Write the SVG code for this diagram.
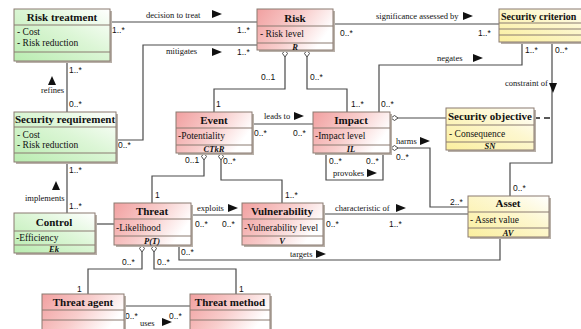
<svg xmlns="http://www.w3.org/2000/svg" width="581" height="329" viewBox="0 0 581 329">
<defs>
<linearGradient id="gRed" x1="0" y1="0" x2="1" y2="0.4"><stop offset="0" stop-color="#f1a0a0"/><stop offset="0.55" stop-color="#f8cdcc"/><stop offset="1" stop-color="#ffffff"/></linearGradient>
<linearGradient id="gGreen" x1="0" y1="1" x2="1" y2="0"><stop offset="0" stop-color="#b9ecb0"/><stop offset="0.55" stop-color="#dcf6d6"/><stop offset="1" stop-color="#ffffff"/></linearGradient>
<linearGradient id="gYellow" x1="0" y1="1" x2="1" y2="0"><stop offset="0" stop-color="#fbef9e"/><stop offset="0.6" stop-color="#fdf7cf"/><stop offset="1" stop-color="#ffffff"/></linearGradient>
</defs>
<style>
.sh{fill:#b8b0a8}
.box{stroke:#8a7a70;stroke-width:1}
.red{fill:url(#gRed)}
.green{fill:url(#gGreen)}
.yellow{fill:url(#gYellow)}
.div{stroke:#8a7a70;stroke-width:1}
.t{font-family:"Liberation Serif",serif;font-weight:bold;font-size:11px;fill:#111;text-anchor:middle}
.a{font-family:"Liberation Serif",serif;font-size:9.5px;fill:#111}
.b{font-family:"Liberation Serif",serif;font-size:8.5px;font-weight:bold;font-style:italic;fill:#111;text-anchor:middle}
.c{fill:none;stroke:#4a4a4a;stroke-width:1.2}
.d{fill:none;stroke:#222;stroke-width:1.4;stroke-dasharray:6 4}
.m{font-family:"Liberation Sans",sans-serif;font-size:8.5px;fill:#111}
.l{font-family:"Liberation Serif",serif;font-size:8.5px;fill:#111}
.ar{fill:#111}
.dm{fill:#fff;stroke:#4a4a4a;stroke-width:1}
</style>

<g id="connectors">
<path class="c" d="M110,22 H257"/>
<text class="l" x="146" y="18">decision to treat</text>
<polygon class="ar" points="212,10 222,14 212,18"/>
<text class="m" x="112" y="33">1..*</text>
<text class="m" x="237" y="33">1..*</text>
<path class="c" d="M116,140 H143 V45 H257"/>
<text class="l" x="166" y="54">mitigates</text>
<polygon class="ar" points="212,48 222,52 212,56"/>
<text class="m" x="237" y="55">1..*</text>
<text class="m" x="118" y="148">0..*</text>
<path class="c" d="M67,61 V112"/>
<text class="m" x="69" y="73">1..*</text>
<text class="m" x="69" y="107">0..*</text>
<text class="l" x="41" y="93">refines</text>
<polygon class="ar" points="52,76 56,85 48,85"/>
<path class="c" d="M67,162 V213"/>
<text class="m" x="69" y="173">1..*</text>
<text class="m" x="69" y="209">1..*</text>
<text class="l" x="25" y="201">implements</text>
<polygon class="ar" points="56,181 60,190 52,190"/>
<path class="c" d="M95,224 H114"/>
<path class="c" d="M285,57 V89 H214 V112"/>
<polygon class="dm" points="285,50 287.5,53.5 285,57 282.5,53.5"/>
<text class="m" x="261" y="80">0..1</text>
<text class="m" x="216" y="107">1</text>
<path class="c" d="M307,57 V89 H347 V112"/>
<polygon class="dm" points="307,50 309.5,53.5 307,57 304.5,53.5"/>
<text class="m" x="310" y="80">0..*</text>
<text class="m" x="351" y="107">1..*</text>
<path class="c" d="M333,24 H499"/>
<text class="l" x="376" y="19">significance assessed by</text>
<polygon class="ar" points="463,12 473,16 463,20"/>
<text class="m" x="340" y="36">0..*</text>
<text class="m" x="478" y="36">1..*</text>
<path class="c" d="M522,42 V65 H379 V112"/>
<text class="l" x="437" y="61">negates</text>
<polygon class="ar" points="473,54 483,58 473,62"/>
<text class="m" x="525" y="53">1..*</text>
<text class="m" x="381" y="107">0..*</text>
<path class="c" d="M552,42 V163 H510 V196"/>
<text class="l" x="505" y="86">constraint of</text>
<polygon class="ar" points="549,83 557,83 553,93"/>
<text class="m" x="555" y="53">0..*</text>
<text class="m" x="513" y="191">0..*</text>
<path class="d" d="M534,118 H552"/>
<path class="c" d="M398,118 H446"/>
<polygon class="dm" points="391,118 394.5,115.5 398,118 394.5,120.5"/>
<path class="c" d="M398,148 H430 V207 H468"/>
<polygon class="dm" points="391,148 394.5,145.5 398,148 394.5,150.5"/>
<text class="l" x="396" y="144">harms</text>
<polygon class="ar" points="420,137 430,141 420,145"/>
<text class="m" x="396" y="160">0..*</text>
<text class="m" x="450" y="205">2..*</text>
<path class="c" d="M326,153 V180 H383 V153"/>
<text class="m" x="329" y="164">0..*</text>
<text class="m" x="366" y="164">0..*</text>
<text class="l" x="333" y="176">provokes</text>
<polygon class="ar" points="367,169 377,173 367,177"/>
<path class="c" d="M252,124 H313"/>
<text class="l" x="264" y="119">leads to</text>
<polygon class="ar" points="294,112 304,116 294,120"/>
<text class="m" x="254" y="136">0..*</text>
<text class="m" x="293" y="136">0..*</text>
<path class="c" d="M204,160 V176 H152 V203"/>
<polygon class="dm" points="204,153 206.5,156.5 204,160 201.5,156.5"/>
<text class="m" x="185" y="163">0..1</text>
<text class="m" x="155" y="198">1</text>
<path class="c" d="M221,160 V180 H282 V203"/>
<polygon class="dm" points="221,153 223.5,156.5 221,160 218.5,156.5"/>
<text class="m" x="223" y="164">0..*</text>
<text class="m" x="285" y="198">1..*</text>
<path class="c" d="M191,215 H242"/>
<text class="l" x="197" y="211">exploits</text>
<polygon class="ar" points="228,204 238,208 228,212"/>
<text class="m" x="195" y="227">0..*</text>
<text class="m" x="222" y="227">0..*</text>
<path class="c" d="M323,214 H468"/>
<text class="l" x="335" y="211">characteristic of</text>
<polygon class="ar" points="396,204 406,208 396,212"/>
<text class="m" x="326" y="227">0..*</text>
<text class="m" x="389" y="227">1..*</text>
<path class="c" d="M179,245 V260 H500 V237"/>
<text class="m" x="181" y="255">0..*</text>
<text class="l" x="290" y="257">targets</text>
<polygon class="ar" points="316,250 326,254 316,258"/>
<path class="c" d="M142,252 V269 H88 V294"/>
<polygon class="dm" points="142,245 144.5,248.5 142,252 139.5,248.5"/>
<text class="m" x="122" y="265">0..*</text>
<text class="m" x="77" y="292">1</text>
<path class="c" d="M154,252 V269 H236 V294"/>
<polygon class="dm" points="154,245 156.5,248.5 154,252 151.5,248.5"/>
<text class="m" x="157" y="265">0..*</text>
<text class="m" x="239" y="292">1</text>
<path class="c" d="M124,306 H190"/>
<text class="m" x="125" y="319">0..*</text>
<text class="m" x="169" y="319">0..*</text>
<text class="l" x="140" y="326">uses</text>
<polygon class="ar" points="162,318 172,322 162,326"/>
</g>

<g id="risk-treatment">
<rect class="sh" x="16" y="11" width="96" height="52"/>
<rect class="box green" x="14" y="9" width="96" height="52"/>
<line class="div" x1="14" y1="25" x2="110" y2="25"/><line class="div" x1="14" y1="52" x2="110" y2="52"/>
<text class="t" x="62" y="21">Risk treatment</text>
<text class="a" x="17" y="35">- Cost</text>
<text class="a" x="17" y="46">- Risk reduction</text>
</g>

<g id="risk">
<rect class="sh" x="259" y="11" width="76" height="41"/>
<rect class="box red" x="257" y="9" width="76" height="41"/>
<line class="div" x1="257" y1="26" x2="333" y2="26"/><line class="div" x1="257" y1="43" x2="333" y2="43"/>
<text class="t" x="295" y="22">Risk</text>
<text class="a" x="260" y="37">- Risk level</text>
<text class="b" x="295" y="50">R</text>
</g>

<g id="security-criterion">
<rect class="sh" x="501" y="11" width="100" height="33"/>
<rect class="box yellow" x="499" y="9" width="100" height="33"/>
<line class="div" x1="499" y1="23" x2="599" y2="23"/><line class="div" x1="499" y1="29" x2="599" y2="29"/><line class="div" x1="499" y1="35" x2="599" y2="35"/>
<text class="t" x="501" y="20" style="text-anchor:start;font-size:10px">Security criterion</text>
</g>

<g id="security-requirement">
<rect class="sh" x="16" y="114" width="102" height="50"/>
<rect class="box green" x="14" y="112" width="102" height="50"/>
<line class="div" x1="14" y1="127" x2="116" y2="127"/><line class="div" x1="14" y1="153" x2="116" y2="153"/>
<text class="t" x="65" y="123">Security requirement</text>
<text class="a" x="17" y="138">- Cost</text>
<text class="a" x="17" y="148">- Risk reduction</text>
</g>

<g id="control">
<rect class="sh" x="16" y="215" width="81" height="40"/>
<rect class="box green" x="14" y="213" width="81" height="40"/>
<line class="div" x1="14" y1="231" x2="95" y2="231"/><line class="div" x1="14" y1="245" x2="95" y2="245"/>
<text class="t" x="54" y="226">Control</text>
<text class="a" x="16" y="241">-Efficiency</text>
<text class="b" x="54" y="252">Ek</text>
</g>

<g id="event">
<rect class="sh" x="178" y="114" width="76" height="41"/>
<rect class="box red" x="176" y="112" width="76" height="41"/>
<line class="div" x1="176" y1="128" x2="252" y2="128"/><line class="div" x1="176" y1="145" x2="252" y2="145"/>
<text class="t" x="214" y="124">Event</text>
<text class="a" x="178" y="139">-Potentiality</text>
<text class="b" x="214" y="152">CTkR</text>
</g>

<g id="impact">
<rect class="sh" x="315" y="114" width="77" height="41"/>
<rect class="box red" x="313" y="112" width="77" height="41"/>
<line class="div" x1="313" y1="128" x2="390" y2="128"/><line class="div" x1="313" y1="145" x2="390" y2="145"/>
<text class="t" x="351" y="124">Impact</text>
<text class="a" x="315" y="139">-Impact level</text>
<text class="b" x="351" y="152">IL</text>
</g>

<g id="security-objective">
<rect class="sh" x="448" y="110" width="88" height="42"/>
<rect class="box yellow" x="446" y="108" width="88" height="42"/>
<line class="div" x1="446" y1="125" x2="534" y2="125"/><line class="div" x1="446" y1="142" x2="534" y2="142"/>
<text class="t" x="490" y="120">Security objective</text>
<text class="a" x="449" y="137">- Consequence</text>
<text class="b" x="490" y="149">SN</text>
</g>

<g id="threat">
<rect class="sh" x="116" y="205" width="77" height="42"/>
<rect class="box red" x="114" y="203" width="77" height="42"/>
<line class="div" x1="114" y1="219" x2="191" y2="219"/><line class="div" x1="114" y1="236" x2="191" y2="236"/>
<text class="t" x="152" y="215">Threat</text>
<text class="a" x="116" y="231">-Likelihood</text>
<text class="b" x="152" y="244">P(T)</text>
</g>

<g id="vulnerability">
<rect class="sh" x="244" y="205" width="81" height="42"/>
<rect class="box red" x="242" y="203" width="81" height="42"/>
<line class="div" x1="242" y1="219" x2="323" y2="219"/><line class="div" x1="242" y1="236" x2="323" y2="236"/>
<text class="t" x="282" y="215">Vulnerability</text>
<text class="a" x="244" y="231">-Vulnerability level</text>
<text class="b" x="282" y="244">V</text>
</g>

<g id="asset">
<rect class="sh" x="470" y="198" width="81" height="41"/>
<rect class="box yellow" x="468" y="196" width="81" height="41"/>
<line class="div" x1="468" y1="212" x2="549" y2="212"/><line class="div" x1="468" y1="228" x2="549" y2="228"/>
<text class="t" x="508" y="207">Asset</text>
<text class="a" x="470" y="223">- Asset value</text>
<text class="b" x="508" y="236">AV</text>
</g>

<g id="threat-agent">
<rect class="sh" x="44" y="296" width="82" height="40"/>
<rect class="box red" x="42" y="294" width="82" height="40"/>
<line class="div" x1="42" y1="310" x2="124" y2="310"/><line class="div" x1="42" y1="320" x2="124" y2="320"/>
<text class="t" x="83" y="306">Threat agent</text>
</g>

<g id="threat-method">
<rect class="sh" x="192" y="296" width="80" height="40"/>
<rect class="box red" x="190" y="294" width="80" height="40"/>
<line class="div" x1="190" y1="310" x2="270" y2="310"/><line class="div" x1="190" y1="320" x2="270" y2="320"/>
<text class="t" x="230" y="306">Threat method</text>
</g>
</svg>
